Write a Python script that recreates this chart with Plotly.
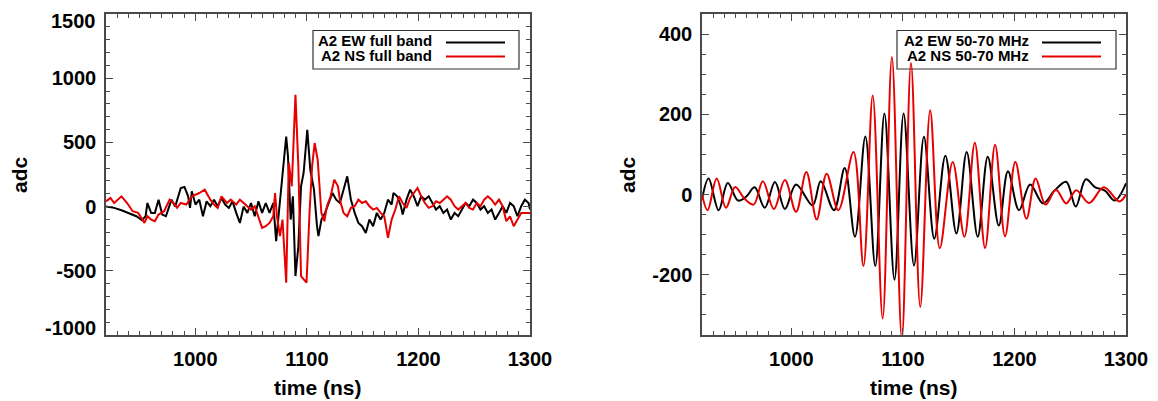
import plotly.graph_objects as go

# ---------------- data ----------------
# Left panel: full band traces
ew_full_t = [920.0, 927.3, 933.9, 940.6, 947.2, 952.2, 955.5, 957.1, 960.5, 963.8, 967.1, 970.4, 973.7, 978.7,
             982.0, 987.0, 990.3, 993.6, 995.3, 996.9, 1000.2, 1003.6, 1006.9, 1010.2, 1013.5, 1016.8, 1020.1,
             1023.5, 1026.8, 1030.1, 1033.4, 1036.7, 1040.0, 1043.3, 1046.7, 1050.0, 1053.3, 1056.6, 1059.9,
             1063.2, 1066.6, 1069.9, 1072.5, 1074.9, 1078.2, 1081.5, 1083.1, 1085.5, 1087.5, 1089.8, 1092.4,
             1094.8, 1097.1, 1100.4, 1103.1, 1106.4, 1109.1, 1110.4, 1113.1, 1116.3, 1119.6, 1123.0, 1126.3,
             1129.6, 1132.9, 1136.2, 1139.5, 1142.9, 1146.2, 1149.5, 1152.8, 1156.1, 1159.4, 1162.7, 1166.1,
             1169.4, 1172.7, 1176.0, 1177.6, 1181.0, 1184.3, 1185.9, 1189.3, 1192.6, 1195.9, 1199.2, 1202.5,
             1205.8, 1209.2, 1212.5, 1215.8, 1219.1, 1222.4, 1225.7, 1229.0, 1232.4, 1235.7, 1239.0, 1242.3,
             1245.6, 1248.9, 1252.3, 1255.6, 1258.9, 1262.2, 1265.5, 1268.8, 1272.2, 1275.5, 1278.8, 1282.1,
             1285.4, 1288.7, 1292.1, 1295.4, 1298.7, 1300.0]
ew_full_v = [0, -10, -28, -49, -75, -106, -75, 28, -49, -49, 54, -62, -75, 54,
             0, 145, 153, 80, -10, 119, 16, 54, -75, 41, 3, 54, 3,
             67, 16, -10, 41, -49, -127, 0, -49, 28, -75, 41, -49,
             28, -49, 28, -270, -49, 262, 546, 391, -101, 80, -541, -308,
             158, 262, 598, 287, 132, -152, -230, -101, -49, 28, 106, 54,
             28, 132, 236, 54, -49, -127, -153, -205, -101, -153, -49, -101,
             -49, 54, 16, 106, 80, 3, -62, 54, 132, 80, 3, 80,
             54, 80, 28, -23, 3, -49, -23, -101, -49, -75, -23, 28,
             3, 54, 28, -23, 3, -49, -23, -101, -49, 3, -49, 28,
             3, -75, 3, 54, 28, -23]

ns_full_t = [920.0, 924.0, 927.3, 930.6, 933.9, 938.9, 943.9, 948.8, 954.5, 957.1, 960.5, 963.8, 967.1, 972.1,
             977.0, 980.4, 983.7, 987.0, 992.0, 996.9, 1003.6, 1008.5, 1013.5, 1016.8, 1020.1, 1023.5, 1028.4,
             1031.7, 1036.7, 1040.0, 1043.3, 1046.7, 1050.0, 1053.3, 1056.6, 1059.9, 1063.2, 1066.6, 1069.9,
             1071.5, 1073.2, 1075.9, 1078.2, 1081.5, 1083.8, 1086.5, 1089.8, 1092.4, 1094.8, 1097.1, 1099.7,
             1102.4, 1104.7, 1107.0, 1109.7, 1113.0, 1115.7, 1118.0, 1121.3, 1124.6, 1127.9, 1129.6, 1132.9,
             1136.2, 1139.5, 1142.9, 1146.2, 1149.5, 1152.8, 1156.1, 1159.4, 1162.7, 1166.1, 1169.4, 1172.7,
             1176.0, 1179.3, 1182.6, 1185.9, 1189.3, 1192.6, 1195.9, 1199.2, 1202.5, 1205.8, 1209.2, 1212.5,
             1215.8, 1219.1, 1222.4, 1225.7, 1229.0, 1232.4, 1235.7, 1239.0, 1242.3, 1245.6, 1248.9, 1252.3,
             1255.6, 1258.9, 1262.2, 1265.5, 1268.8, 1272.2, 1275.5, 1278.8, 1282.1, 1285.4, 1288.7, 1292.1,
             1295.4, 1300.0]
ns_full_v = [41, 67, 28, 54, 80, 28, -36, -49, -127, -75, -101, -114, -62, -36,
             54, 28, -10, 28, 16, 80, 106, 132, 54, 16, -10, 80, 28,
             54, 16, 54, 28, 3, -23, 3, -75, -166, -153, -127, -75,
             106, -75, -230, -101, -593, 340, 158, 870, 313, -541, -567, -593,
             -49, 313, 495, 365, -49, -114, 3, 80, 210, 158, 54, -49,
             -75, -10, 3, 54, 28, 41, 3, -23, -10, -49, -75, -243,
             -101, -23, 80, 28, -10, 67, 106, 145, 80, 28, -10, 3,
             41, 28, 54, 80, 54, 3, -23, 3, 28, -10, -23, 28,
             3, 54, 80, 54, 16, 54, 3, -114, -75, -153, -101, -49,
             -49, -49]

# Right panel: 50-70 MHz filtered traces (turning points)
ew_filt_t = [920.0, 925.9, 934.9, 943.1, 952.4, 959.7, 967.2, 976.2, 985.4, 994.3, 1004.3, 1019.1, 1026.4,
             1038.3, 1047.9, 1057.1, 1066.4, 1075.3, 1083.5, 1092.5, 1100.7, 1110.0, 1118.9, 1128.2, 1138.1,
             1148.0, 1157.2, 1167.1, 1176.1, 1186.0, 1194.2, 1204.1, 1214.1, 1225.6, 1236.0, 1246.4, 1255.0,
             1264.0, 1272.5, 1281.0, 1290.0, 1300.0]
ew_filt_v = [-12, 40, -39, 29, -15, -5, 18, -33, 31, -36, 25, -27, 33,
             -39, 66, -105, 145, -178, 202, -212, 202, -177, 144, -110, 97,
             -97, 106, -105, 94, -77, 58, -39, 25, -22, 10, 32, -30, 38, 18, 10, -15, 28]

ns_filt_t = [920.0, 925.0, 933.2, 941.5, 949.7, 958.0, 966.3, 974.5, 984.4, 994.3, 1004.3, 1013.5, 1022.8,
             1031.7, 1042.2, 1055.8, 1064.7, 1073.0, 1081.9, 1090.2, 1099.1, 1107.3, 1115.6, 1124.5, 1133.1,
             1144.7, 1155.2, 1164.5, 1173.7, 1182.7, 1191.6, 1200.8, 1210.8, 1219.0, 1227.9, 1237.2, 1246.4,
             1255.4, 1266.9, 1280.1, 1294.0, 1300.0]
ns_filt_v = [0, -39, 40, -33, 19, -10, -25, 33, -36, 36, -43, 56, -62,
             52, -39, 106, -178, 247, -309, 343, -360, 328, -280, 210, -134,
             81, -105, 129, -133, 124, -104, 81, -60, 40, -25, 12, -22,
             11, -21, 18, -17, 0]

x_ticks = [1000, 1100, 1200, 1300]
left_y_ticks = [-1000, -500, 0, 500, 1000, 1500]
right_y_ticks = [-200, 0, 200, 400]
legend_left = ["A2 EW full band", "A2 NS full band"]
legend_right = ["A2 EW 50-70 MHz", "A2 NS 50-70 MHz"]
x_title = "time (ns)"
y_title = "adc"

# ---------------- styling ----------------
W, H = 1158, 401
PAGE_OFFSET = 8  # default page margin of the html body shifts the figure
BLACK = "#000000"
RED = "#e60000"
AXCOL = "#4a4a4a"
FONT = "Liberation Sans, Arial, Helvetica, sans-serif"


def px(x):
    return (x - PAGE_OFFSET) / W


def py(y):
    return 1 - (y - PAGE_OFFSET) / H


def labels(vals):
    return [str(v) for v in vals]  # plain hyphen minus, as in the reference


fig = go.Figure()
fig.add_trace(go.Scatter(x=ew_full_t, y=ew_full_v, mode="lines", line=dict(color=BLACK, width=2),
                         xaxis="x", yaxis="y", showlegend=False))
fig.add_trace(go.Scatter(x=ns_full_t, y=ns_full_v, mode="lines", line=dict(color=RED, width=2),
                         xaxis="x", yaxis="y", showlegend=False))
fig.add_trace(go.Scatter(x=ew_filt_t, y=ew_filt_v, mode="lines",
                         line=dict(color=BLACK, width=2, shape="spline", smoothing=1.0),
                         xaxis="x2", yaxis="y2", showlegend=False))
fig.add_trace(go.Scatter(x=ns_filt_t, y=ns_filt_v, mode="lines",
                         line=dict(color=RED, width=2, shape="spline", smoothing=1.0),
                         xaxis="x2", yaxis="y2", showlegend=False))

tickfont = dict(family=FONT, size=20, color="black", weight="bold")

common_axis = dict(showline=True, linecolor=AXCOL, linewidth=1.5, mirror="allticks", ticks="inside",
                   tickcolor=AXCOL, tickwidth=1.2, ticklen=7, showgrid=False, zeroline=False,
                   tickfont=tickfont, automargin=False, ticklabeloverflow="allow")
xminor = dict(dtick=10, tick0=0, ticks="inside", ticklen=4, tickcolor=AXCOL, tickwidth=1)

# the outermost left-axis labels sit just inside the frame in the reference (drawn as annotations below)
left_y_text = labels(left_y_ticks)
edge_labels = [(left_y_ticks[-1], left_y_text[-1], 21), (left_y_ticks[0], left_y_text[0], 328)]
left_y_text[0] = ""
left_y_text[-1] = ""

fig.update_layout(
    width=W, height=H, margin=dict(l=0, r=0, t=0, b=0, autoexpand=False),
    paper_bgcolor="white", plot_bgcolor="white", showlegend=False,
    xaxis=dict(domain=[px(106), px(530)], range=[920, 1300], tickvals=x_ticks, ticktext=labels(x_ticks),
               anchor="y", minor=xminor, ticklabelstandoff=5, **common_axis),
    yaxis=dict(domain=[py(335), py(14)], range=[-1000, 1500], tickvals=left_y_ticks,
               ticktext=left_y_text, anchor="x", ticklabelstandoff=4,
               minor=dict(dtick=100, tick0=0, ticks="inside", ticklen=4, tickcolor=AXCOL, tickwidth=1),
               **common_axis),
    xaxis2=dict(domain=[px(702), px(1126)], range=[920, 1300], tickvals=x_ticks, ticktext=labels(x_ticks),
                anchor="y2", minor=xminor, ticklabelstandoff=5, **common_axis),
    yaxis2=dict(domain=[py(335), py(14)], range=[-350, 450], tickvals=right_y_ticks,
                ticktext=labels(right_y_ticks), anchor="x2", ticklabelstandoff=4,
                minor=dict(dtick=50, tick0=0, ticks="inside", ticklen=4, tickcolor=AXCOL, tickwidth=1),
                **common_axis),
)

annots = []
for _, txt, ly in edge_labels:
    annots.append(dict(x=px(98), y=py(ly), xref="paper", yref="paper", text=txt, showarrow=False,
                       font=tickfont, xanchor="right", yanchor="middle"))

titlefont = dict(family=FONT, size=21, color="black", weight="bold")
# axis titles
for cx in (318, 914):
    annots.append(dict(x=px(cx), y=py(387), xref="paper", yref="paper", text=x_title, showarrow=False,
                       font=titlefont, xanchor="center", yanchor="middle"))
for cx in (20, 628):
    annots.append(dict(x=px(cx), y=py(175), xref="paper", yref="paper", text=y_title, showarrow=False,
                       font=titlefont, xanchor="center", yanchor="middle", textangle=-90))

shapes = []
legfont = dict(family=FONT, size=15, color="black", weight="bold")
for (bx0, bx1, tx, lx0, lx1, labs) in [(313, 519, 434, 446, 505, legend_left),
                                        (897, 1116, 1031, 1042, 1101, legend_right)]:
    shapes.append(dict(type="rect", xref="paper", yref="paper", x0=px(bx0), x1=px(bx1), y0=py(69), y1=py(30.5),
                       line=dict(color="#333333", width=1.2), fillcolor="rgba(0,0,0,0)", layer="below"))
    for i, (lab, col) in enumerate(zip(labs, (BLACK, RED))):
        ty = 41 + i * 14
        annots.append(dict(x=px(tx), y=py(ty), xref="paper", yref="paper", text=lab, showarrow=False,
                           font=legfont, xanchor="right", yanchor="middle"))
        shapes.append(dict(type="line", xref="paper", yref="paper", x0=px(lx0), x1=px(lx1),
                           y0=py(ty + 1.5), y1=py(ty + 1.5), line=dict(color=col, width=2), layer="above"))

fig.update_layout(annotations=annots, shapes=shapes)
fig.write_html("out.html")
